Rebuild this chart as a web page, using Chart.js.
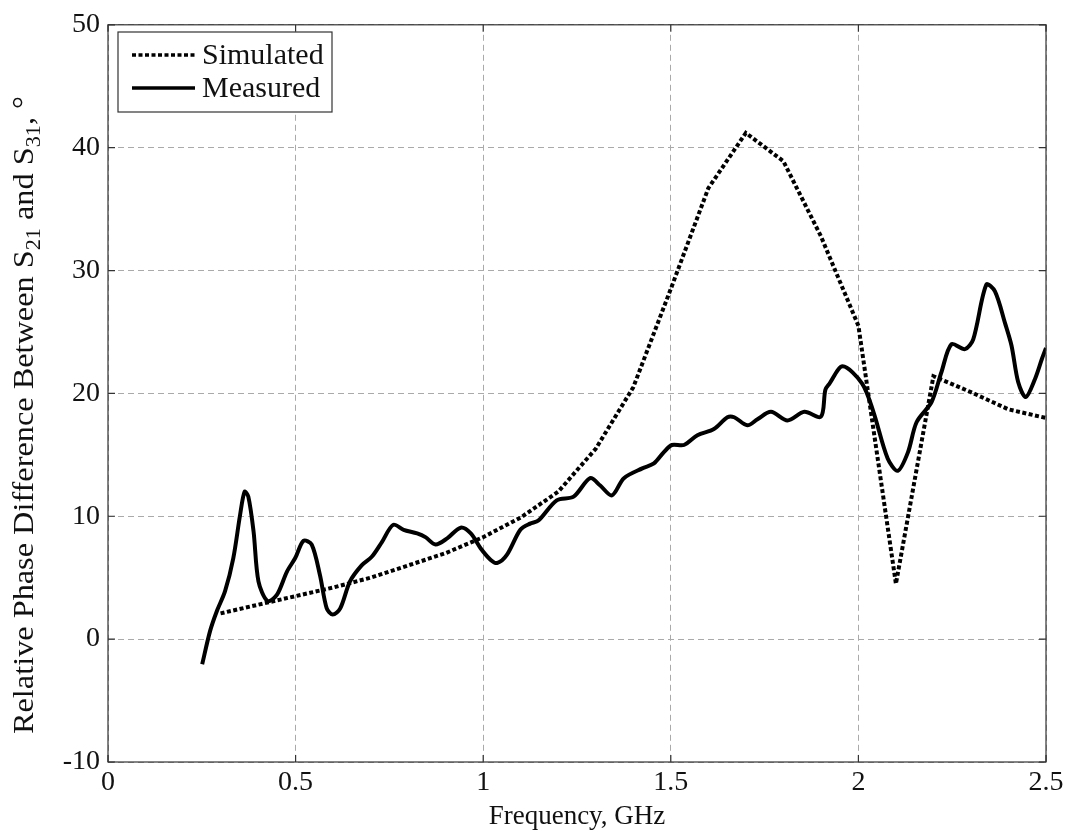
<!DOCTYPE html>
<html>
<head>
<meta charset="utf-8">
<script src="https://cdn.jsdelivr.net/npm/chart.js@4.4.1/dist/chart.umd.min.js"></script>
<style>
  body { margin: 0; background: #fff; }
  #wrap { width: 1069px; height: 835px; }
</style>
</head>
<body>
<div id="wrap"><canvas id="grafico"></canvas></div>
<script>
// datos
const simFreq  = [0.3, 0.4, 0.5, 0.6, 0.7, 0.8, 0.9, 1.0, 1.1, 1.2, 1.3, 1.4, 1.5, 1.6, 1.7, 1.8, 1.9, 2.0, 2.1, 2.2, 2.3, 2.4, 2.5];
const simPhase = [2.1, 2.8, 3.5, 4.2, 5.0, 6.0, 7.0, 8.3, 9.9, 12.0, 15.5, 20.5, 28.5, 36.7, 41.2, 38.9, 32.8, 25.5, 4.5, 21.4, 20.1, 18.7, 18.0];

const measFreq  = [0.251, 0.272, 0.29, 0.312, 0.334, 0.352, 0.364, 0.374, 0.388, 0.401, 0.425, 0.45, 0.477, 0.499, 0.521, 0.543, 0.565, 0.583, 0.599, 0.619, 0.645, 0.676, 0.703, 0.73, 0.76, 0.788, 0.824, 0.846, 0.873, 0.904, 0.94, 0.967, 0.993, 1.02, 1.038, 1.063, 1.099, 1.125, 1.147, 1.196, 1.241, 1.285, 1.312, 1.343, 1.375, 1.424, 1.455, 1.481, 1.503, 1.535, 1.571, 1.615, 1.651, 1.669, 1.704, 1.731, 1.767, 1.811, 1.856, 1.9, 1.912, 1.923, 1.958, 2.01, 2.04, 2.078, 2.105, 2.132, 2.155, 2.195, 2.221, 2.248, 2.284, 2.306, 2.341, 2.364, 2.391, 2.408, 2.426, 2.446, 2.471, 2.489, 2.5];
const measPhase = [-2.05, 0.65, 2.27, 3.9, 6.6, 10.1, 12.0, 11.6, 8.75, 4.7, 3.1, 3.6, 5.5, 6.6, 8.0, 7.7, 5.2, 2.5, 2.0, 2.5, 4.7, 6.0, 6.7, 7.9, 9.3, 8.9, 8.6, 8.3, 7.7, 8.2, 9.07, 8.6, 7.4, 6.45, 6.2, 6.85, 8.9, 9.4, 9.65, 11.3, 11.6, 13.1, 12.5, 11.7, 13.1, 13.9, 14.3, 15.2, 15.8, 15.8, 16.6, 17.1, 18.06, 18.06, 17.4, 17.9, 18.5, 17.8, 18.5, 18.1, 20.3, 20.8, 22.2, 20.8, 18.5, 14.7, 13.7, 15.2, 17.65, 19.3, 21.7, 24.0, 23.6, 24.4, 28.85, 28.3, 25.7, 23.9, 20.9, 19.7, 21.2, 22.8, 23.7];

const xTicks = [0, 0.5, 1, 1.5, 2, 2.5];
const yTicks = [-10, 0, 10, 20, 30, 40, 50];

const fuente = '"Liberation Serif", "Times New Roman", serif';

function puntos(xs, ys) {
    return xs.map((x, i) => ({ x: x, y: ys[i] }));
}

// caja, marcas interiores, leyenda y titulo del eje Y
const extras = {
    id: 'extras',
    afterDraw(chart) {
        const ctx = chart.ctx;
        const a = chart.chartArea;
        const sx = chart.scales.x, sy = chart.scales.y;
        ctx.save();
        ctx.strokeStyle = '#333';
        ctx.lineWidth = 1.2;
        ctx.strokeRect(a.left, a.top, a.right - a.left, a.bottom - a.top);
        ctx.beginPath();
        xTicks.forEach(t => {
            let px = sx.getPixelForValue(t);
            ctx.moveTo(px, a.bottom); ctx.lineTo(px, a.bottom - 7);
            ctx.moveTo(px, a.top); ctx.lineTo(px, a.top + 7);
        });
        yTicks.forEach(t => {
            let py = sy.getPixelForValue(t);
            ctx.moveTo(a.left, py); ctx.lineTo(a.left + 7, py);
            ctx.moveTo(a.right, py); ctx.lineTo(a.right - 7, py);
        });
        ctx.stroke();

        // leyenda
        ctx.fillStyle = '#fff';
        ctx.fillRect(118, 32, 214, 80);
        ctx.strokeStyle = '#333';
        ctx.lineWidth = 1.2;
        ctx.strokeRect(118, 32, 214, 80);
        ctx.strokeStyle = '#000';
        ctx.lineWidth = 3.5;
        ctx.setLineDash([4, 2.5]);
        ctx.beginPath(); ctx.moveTo(132, 55); ctx.lineTo(195, 55); ctx.stroke();
        ctx.setLineDash([]);
        ctx.beginPath(); ctx.moveTo(132, 88); ctx.lineTo(195, 88); ctx.stroke();
        ctx.fillStyle = '#111';
        ctx.font = '30px ' + fuente;
        ctx.textBaseline = 'middle';
        ctx.textAlign = 'left';
        ctx.fillText('Simulated', 202, 56);
        ctx.fillText('Measured', 202, 89);

        // titulo Y con subindices
        const partes = [
            ['Relative Phase Difference Between S', false],
            ['21', true],
            [' and S', false],
            ['31', true],
            [', \u00B0', false]
        ];
        const fNormal = '29px ' + fuente, fSub = '20px ' + fuente;
        let total = 0;
        partes.forEach(p => { ctx.font = p[1] ? fSub : fNormal; total += ctx.measureText(p[0]).width; });
        ctx.translate(33, 734);
        ctx.rotate(-Math.PI / 2);
        ctx.scale(638 / total, 1);
        ctx.textBaseline = 'alphabetic';
        let xx = 0;
        partes.forEach(p => {
            ctx.font = p[1] ? fSub : fNormal;
            ctx.fillText(p[0], xx, p[1] ? 7 : 0);
            xx += ctx.measureText(p[0]).width;
        });
        ctx.restore();
    }
};

new Chart(document.getElementById('grafico'), {
    type: 'scatter',
    data: {
        datasets: [
            {
                label: 'Simulated',
                data: puntos(simFreq, simPhase),
                showLine: true,
                borderColor: '#000',
                borderWidth: 4,
                borderDash: [4, 2.5],
                pointRadius: 0,
                tension: 0
            },
            {
                label: 'Measured',
                data: puntos(measFreq, measPhase),
                showLine: true,
                borderColor: '#000',
                borderWidth: 4,
                pointRadius: 0,
                tension: 0.3
            }
        ]
    },
    options: {
        responsive: true,
        maintainAspectRatio: false,
        animation: false,
        layout: { padding: { top: 21, right: 23, left: 0, bottom: 0 } },
        plugins: { legend: { display: false }, tooltip: { enabled: false } },
        scales: {
            x: {
                type: 'linear',
                min: 0, max: 2.5,
                afterBuildTicks: s => { s.ticks = xTicks.map(v => ({ value: v })); },
                afterFit: s => { s.height = 73; },
                ticks: { color: '#111', font: { family: fuente, size: 28 }, padding: 4, callback: v => String(v) },
                grid: { color: '#aaa', lineWidth: 1, drawTicks: false },
                border: { display: false, dash: [6, 4] },
                title: { display: true, text: 'Frequency, GHz', color: '#111', font: { family: fuente, size: 27 }, padding: { top: 0, bottom: 2 } }
            },
            y: {
                type: 'linear',
                min: -10, max: 50,
                afterBuildTicks: s => { s.ticks = yTicks.map(v => ({ value: v })); },
                afterFit: s => { s.width = 108; },
                ticks: { color: '#111', font: { family: fuente, size: 28 }, padding: 8, callback: v => String(v) },
                grid: { color: '#aaa', lineWidth: 1, drawTicks: false },
                border: { display: false, dash: [6, 4] }
            }
        }
    },
    plugins: [extras]
});
</script>
</body>
</html>
